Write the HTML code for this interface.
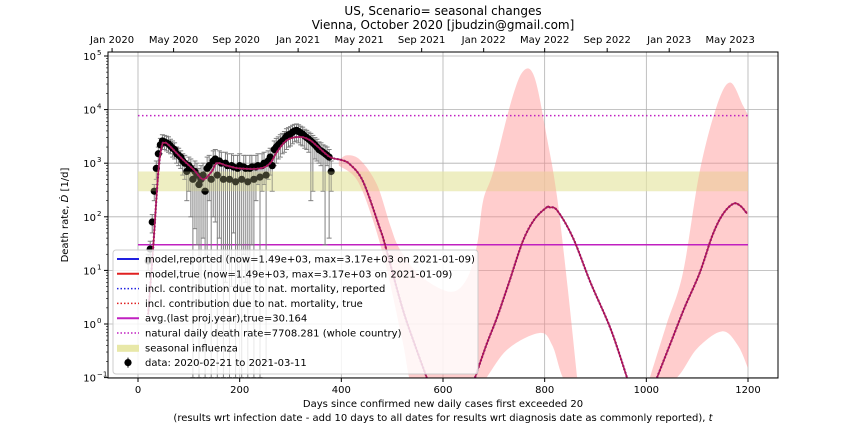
<!DOCTYPE html>
<html><head><meta charset="utf-8"><style>
html,body{margin:0;padding:0;background:#fff;}
svg{display:block;font-family:"DejaVu Sans","Liberation Sans",sans-serif;}
</style></head><body>
<svg id="chart" width="864" height="432" viewBox="0 0 864 432" xmlns="http://www.w3.org/2000/svg">
<defs><clipPath id="pc"><rect x="108" y="52" width="670" height="326"/></clipPath></defs>
<rect x="0" y="0" width="864" height="432" fill="#fff"/>
<text x="443" y="15" font-size="12" text-anchor="middle">US, Scenario= seasonal changes</text>
<text x="443" y="29" font-size="12" text-anchor="middle">Vienna, October 2020 [jbudzin@gmail.com]</text>
<g id="grid"></g>
<g id="marks" clip-path="url(#pc)"></g>
<rect x="108" y="52" width="670" height="326" fill="none" stroke="#000" stroke-width="1"/>
<g id="axes"></g>
<text x="443" y="407" font-size="10" text-anchor="middle">Days since confirmed new daily cases first exceeded 20</text>
<text x="443" y="421" font-size="10" text-anchor="middle">(results wrt infection date - add 10 days to all dates for results wrt diagnosis date as commonly reported), <tspan font-style="italic">t</tspan></text>
<text x="0" y="0" font-size="10" text-anchor="middle" transform="translate(68,215) rotate(-90)">Death rate, <tspan font-style="italic">Ḋ</tspan> [1/d]</text>
<g id="legend"></g>
</svg>
<script>
const modelDays=[20,30,40,47,52,60,89,110,128,145,155,175,200,240,260,273,293,319,338,352,378,400,417,443,476,486,520,545,568];
const modelVals=[1.5,28,700,2100,2400,2200,1150,750,500,700,1000,900,800,800,1000,1600,2700,3100,2700,2100,1300,1150,950,450,60,30,2,0.4,0.1];
const model2Days=[663,685,706,730,757,780,804,810,825,856,890,930,962];
const model2Vals=[0.1,0.4,1.3,6,35,90,150,150,130,40,6,0.8,0.1];
const model3Days=[1021,1050,1075,1105,1130,1150,1171,1185,1198];
const model3Vals=[0.1,0.5,2,9,45,110,175,160,115];
const upperDays=[395,410,437,470,496,515,555,614,647,667,679,699,732,757,780,805,824,845,864];
const upperVals=[1100,1400,1150,400,70,25,8,4,7,30,200,700,12000,51000,40000,2800,250,5,0.1];
const lowerDays=[395,430,460,490,520,545,610,673,726,790,815,836,864];
const lowerVals=[900,500,100,10,0.5,0.05,0.02,0.07,0.33,0.68,0.4,0.1,0.05];
const upper3Days=[1007,1040,1072,1105,1139,1165,1190,1200];
const upper3Vals=[0.1,1,9,700,12000,32000,12000,8000];
const lower3Days=[1007,1060,1100,1149,1180,1200];
const lower3Vals=[0.05,0.1,0.35,0.73,0.4,0.15];
const dataDays=[20,24,28,32,36,40,44,48,52,56,60,64,68,72,76,80,84,88,92,96,100,104,108,112,116,120,124,128,132,136,140,144,148,152,156,160,164,168,172,176,180,184,188,192,196,200,204,208,212,216,220,224,228,232,236,240,244,248,252,256,260,264,268,272,276,280,284,288,292,296,300,304,308,312,316,320,324,328,332,336,340,344,348,352,356,360,364,368,372,376,380];
const dataVals=[15,25,80,300,800,1500,2200,2600,2500,2400,2300,2100,1900,1800,1500,1400,1300,1100,1000,700,900,800,500,700,600,400,500,600,300,800,900,500,1100,1200,600,1100,1000,500,1000,900,500,900,850,450,800,900,500,850,800,450,800,850,500,850,900,550,900,1000,600,1100,1300,900,1800,2000,2200,2400,2600,2800,3200,3400,3500,3800,4000,4100,3900,3700,3500,3200,3000,2800,2600,2400,2200,2000,1800,1700,1600,1500,1400,1300,700];
const dataLo=[10,15,50,200,500,1000,1500,1800,1800,1700,1600,1500,1300,1200,1000,900,800,600,500,200,300,100,0.1,60,30,0.1,5,40,0.1,20,200,0.1,100,80,0.1,40,10,0.1,6,20,0.1,5,50,0.1,8,30,0.1,20,6,0.1,5,30,0.1,200,400,0.1,300,400,0.2,500,600,300,900,1000,1200,1300,1500,1600,1800,2000,2100,2300,2500,2600,2400,2200,2100,1900,1800,1600,200,300,1200,1100,1000,900,300,30,900,40,300];
const dataHi=[20,35,110,400,1100,2000,2900,3400,3300,3200,3100,2800,2600,2400,2000,1900,1700,1500,1400,1100,1300,1200,900,1100,1000,800,900,1000,700,1300,1400,1000,1700,1800,1100,1700,1600,1000,1600,1500,1000,1500,1400,900,1400,1500,1000,1400,1400,900,1400,1400,1000,1400,1500,1000,1500,1600,1100,1700,1900,1500,2600,2900,3100,3400,3600,3900,4400,4600,4800,5100,5300,5400,5200,4900,4700,4300,4100,3800,3600,3300,3000,2800,2500,2400,2200,2100,2000,1800,1100];
const xTickVals=[0,200,400,600,800,1000,1200];
const topTickDays=[-51,70,193,315,435,558,680,800,923,1045,1165];
const topTickLabels=["Jan 2020","May 2020","Sep 2020","Jan 2021","May 2021","Sep 2021","Jan 2022","May 2022","Sep 2022","Jan 2023","May 2023"];
const yTickExps=[-1,0,1,2,3,4,5];
const avgValue=30.164;
const naturalRate=7708.281;
const fluLow=300, fluHigh=700;

const NS="http://www.w3.org/2000/svg";
const X=d=>138+d*0.508333;
const Y=v=>324-Math.log10(v)*53.6;
function mk(parent,tag,attrs){const e=document.createElementNS(NS,tag);for(const k in attrs)e.setAttribute(k,attrs[k]);parent.appendChild(e);return e;}
const grid=document.getElementById('grid'),marks=document.getElementById('marks'),axes=document.getElementById('axes'),legend=document.getElementById('legend');

xTickVals.forEach(t=>{const l=mk(grid,'line',{x1:X(t),x2:X(t),y1:52,y2:378,stroke:'#b0b0b0','stroke-width':0.8});

});
yTickExps.forEach(e=>{const l=mk(grid,'line',{x1:108,x2:778,y1:Y(Math.pow(10,e)),y2:Y(Math.pow(10,e)),stroke:'#b0b0b0','stroke-width':0.8});

});

function smoothPath(ds,vs){const p=ds.map((d,i)=>[X(d),Y(vs[i])]);let s='M'+p[0][0]+','+p[0][1];
for(let i=0;i<p.length-1;i++){const p0=p[i-1]||p[i],p1=p[i],p2=p[i+1],p3=p[i+2]||p2;
s+=' C'+(p1[0]+(p2[0]-p0[0])/6)+','+(p1[1]+(p2[1]-p0[1])/6)+' '+(p2[0]-(p3[0]-p1[0])/6)+','+(p2[1]-(p3[1]-p1[1])/6)+' '+p2[0]+','+p2[1];}return s;}
function bandPath(uD,uV,lD,lV){const up=smoothPath(uD,uV);const rl=smoothPath(lD.slice().reverse(),lV.slice().reverse()).replace('M','L');return up+' '+rl+' Z';}

const flu=mk(marks,'rect',{x:X(0),y:Y(fluHigh),width:X(1200)-X(0),height:Y(fluLow)-Y(fluHigh),fill:'#e8e8a8','fill-opacity':0.6});


const b1=mk(marks,'path',{d:bandPath(upperDays,upperVals,lowerDays,lowerVals),fill:'#ff9090','fill-opacity':0.45});


const b3=mk(marks,'path',{d:bandPath(upper3Days,upper3Vals,lower3Days,lower3Vals),fill:'#ff9090','fill-opacity':0.45});



const av=mk(marks,'line',{x1:X(0),x2:X(1200),y1:Y(avgValue),y2:Y(avgValue),stroke:'#c020c0','stroke-width':1.5});


const nr=mk(marks,'line',{x1:X(0),x2:X(1200),y1:Y(naturalRate),y2:Y(naturalRate),stroke:'#c020c0','stroke-width':1.5,'stroke-dasharray':'1.5,2.5'});



dataDays.forEach((d,i)=>{const x=X(d);
const eb=mk(marks,'line',{x1:x,x2:x,y1:Y(dataHi[i]),y2:Y(dataLo[i]),stroke:'#808080','stroke-width':1});


const c1=mk(marks,'line',{x1:x-2.5,x2:x+2.5,y1:Y(dataLo[i]),y2:Y(dataLo[i]),stroke:'#808080','stroke-width':1});


const c2=mk(marks,'line',{x1:x-2.5,x2:x+2.5,y1:Y(dataHi[i]),y2:Y(dataHi[i]),stroke:'#808080','stroke-width':1});

});
dataDays.forEach((d,i)=>{const p=mk(marks,'circle',{cx:X(d),cy:Y(dataVals[i]),r:3.6,fill:'#000'});

});
const flu2=mk(marks,'rect',{x:X(0),y:Y(fluHigh),width:X(1200)-X(0),height:Y(fluLow)-Y(fluHigh),fill:'#e8e8a8','fill-opacity':0.25});



[[modelDays,modelVals],[model2Days,model2Vals],[model3Days,model3Vals]].forEach(([ds,vs],k)=>{
const d=smoothPath(ds,vs);
const r=mk(marks,'path',{d:d,fill:'none',stroke:'#2020e0','stroke-width':1.5});


const t=mk(marks,'path',{d:d,fill:'none',stroke:'#e02020','stroke-width':1.5,'stroke-opacity':0.8});


const q=mk(marks,'path',{d:d,fill:'none',stroke:'#a0106a','stroke-width':2.2,'stroke-dasharray':'1.5,2'});

});

xTickVals.forEach(t=>{const x=X(t);
const tk=mk(axes,'line',{x1:x,x2:x,y1:378,y2:382,stroke:'#000'});


const tx=mk(axes,'text',{x:x,y:393,'font-size':10,'text-anchor':'middle'});tx.textContent=t;

});
topTickDays.forEach((d,i)=>{const x=X(d);
const tk=mk(axes,'line',{x1:x,x2:x,y1:48,y2:52,stroke:'#000'});


const tx=mk(axes,'text',{x:x,y:43,'font-size':10,'text-anchor':'middle'});tx.textContent=topTickLabels[i];

});
yTickExps.forEach(e=>{const y=Y(Math.pow(10,e));
const tk=mk(axes,'line',{x1:104,x2:108,y1:y,y2:y,stroke:'#000'});


const tx=mk(axes,'text',{x:96,y:y+4,'font-size':10,'text-anchor':'end'});tx.textContent='10';


const sp=mk(axes,'text',{x:97,y:y-1,'font-size':7,'text-anchor':'start'});sp.textContent=(e<0?'\u2212':'')+Math.abs(e);


if(e<5){for(let m=2;m<10;m++){const yy=Y(m*Math.pow(10,e));if(yy<52)continue;
const mt=mk(axes,'line',{x1:106,x2:108,y1:yy,y2:yy,stroke:'#000','stroke-width':0.6});

}}});

const lb=mk(legend,'rect',{x:113,y:250,width:365,height:124,rx:3,fill:'#fff','fill-opacity':0.82,stroke:'#cccccc'});


const entries=[
['model,reported (now=1.49e+03, max=3.17e+03 on 2021-01-09)','#2020e0','solid'],
['model,true (now=1.49e+03, max=3.17e+03 on 2021-01-09)','#e02020','solid'],
['incl. contribution due to nat. mortality, reported','#2020e0','dot'],
['incl. contribution due to nat. mortality, true','#e02020','dot'],
['avg.(last proj.year),true=30.164','#c020c0','solid'],
['natural daily death rate=7708.281 (whole country)','#c020c0','dot'],
['seasonal influenza','#e8e8a8','box'],
['data: 2020-02-21 to 2021-03-11','#000','data']];
entries.forEach((en,i)=>{const y=259+i*14.8;
let s;
if(en[2]==='box'){s=mk(legend,'rect',{x:117,y:y-3,width:22,height:7,fill:en[1]});}
else if(en[2]==='data'){s=mk(legend,'circle',{cx:128,cy:y,r:3.6,fill:'#000'});
const eb=mk(legend,'line',{x1:128,x2:128,y1:y-5,y2:y+5,stroke:'#000'});

}
else{s=mk(legend,'line',{x1:117,x2:139,y1:y,y2:y,stroke:en[1],'stroke-width':en[2]==='dot'?1.5:2,'stroke-dasharray':en[2]==='dot'?'1.5,2':'none'});}


const t=mk(legend,'text',{x:145,y:y+3.5,'font-size':10});t.textContent=en[0];

});
</script>
</body></html>
